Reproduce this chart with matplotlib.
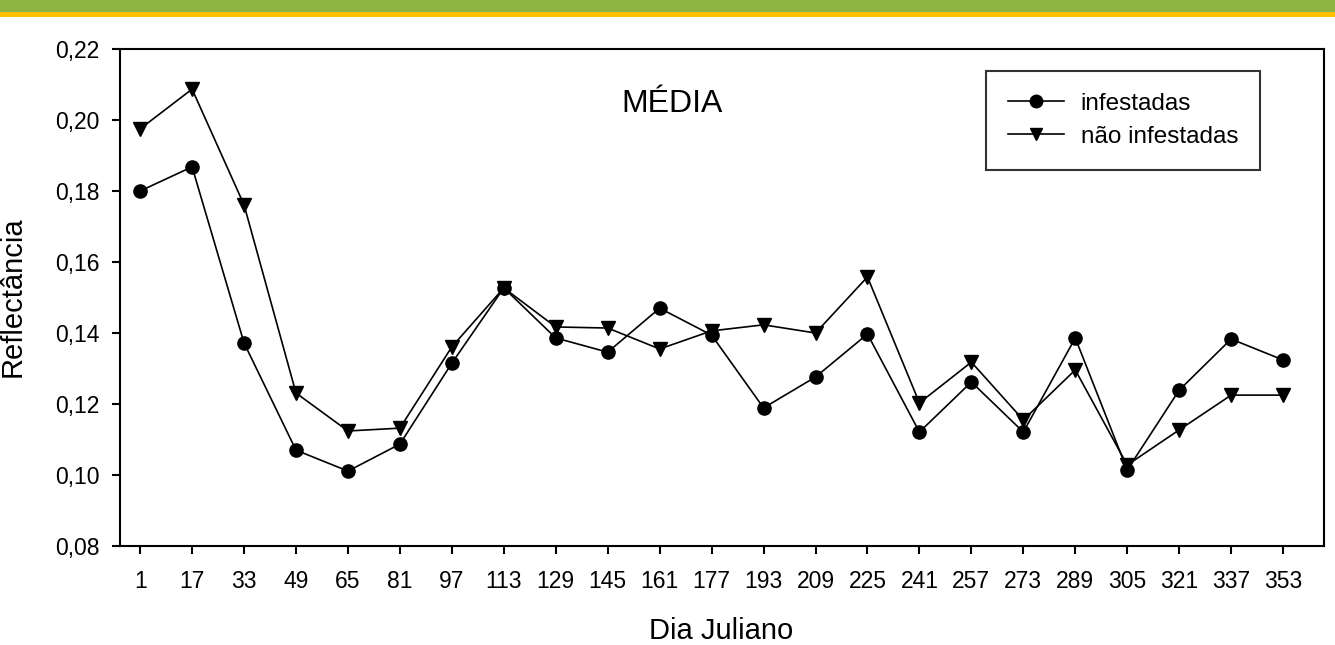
import matplotlib
matplotlib.use("Agg")
import matplotlib.pyplot as plt
from matplotlib.patches import Rectangle

plt.rcParams['font.family'] = ['Liberation Sans', 'DejaVu Sans']

# Julian day of each image
dias = [1, 17, 33, 49, 65, 81, 97, 113, 129, 145, 161, 177,
        193, 209, 225, 241, 257, 273, 289, 305, 321, 337, 353]

# Mean reflectance per date
infestadas = [0.1800, 0.1868, 0.1372, 0.1070, 0.1011, 0.1087, 0.1315, 0.1527,
              0.1386, 0.1346, 0.1470, 0.1394, 0.1189, 0.1276, 0.1397, 0.1121,
              0.1262, 0.1121, 0.1386, 0.1014, 0.1239, 0.1383, 0.1324]
nao_infestadas = [0.1975, 0.2087, 0.1761, 0.1231, 0.1124, 0.1132, 0.1361, 0.1527,
                  0.1417, 0.1414, 0.1355, 0.1406, 0.1423, 0.1400, 0.1558, 0.1203,
                  0.1318, 0.1155, 0.1296, 0.1028, 0.1127, 0.1225, 0.1225]

y_ticks = [0.08, 0.10, 0.12, 0.14, 0.16, 0.18, 0.20, 0.22]
y_tick_labels = ['0,08', '0,10', '0,12', '0,14', '0,16', '0,18', '0,20', '0,22']

W, H = 1335, 645
fig = plt.figure(figsize=(W / 100, H / 100), dpi=100)
fig.patch.set_facecolor('white')

# Decorative band at the top of the slide
fig.add_artist(Rectangle((0, 1 - 12 / H), 1, 12 / H, transform=fig.transFigure,
                         facecolor='#8EB443', edgecolor='none'))
fig.add_artist(Rectangle((0, 1 - 17 / H), 1, 5 / H, transform=fig.transFigure,
                         facecolor='#FFC000', edgecolor='none'))

ax = fig.add_axes([120 / W, 1 - 546 / H, (1324 - 120) / W, (546 - 49) / H])

ax.plot(dias, infestadas, color='black', lw=1.2, marker='o', ms=9.5,
        label='infestadas')
ax.plot(dias, nao_infestadas, color='black', lw=1.2, marker='v', ms=10.5,
        label='não infestadas')

ax.set_xlim(-5.2, 365.6)
ax.set_ylim(0.08, 0.22)
ax.set_xticks(dias)
ax.set_xticklabels([str(d) for d in dias])
ax.set_yticks(y_ticks)
ax.set_yticklabels(y_tick_labels)

for s in ax.spines.values():
    s.set_linewidth(1.5)
ax.tick_params(axis='both', direction='out', length=6, width=1.5,
               labelsize=16.5, colors='black')
ax.tick_params(axis='y', pad=9)
ax.tick_params(axis='x', pad=11)

fig.text(672 / W, 1 - 112 / H, 'MÉDIA', fontsize=23, ha='center', va='baseline')
fig.text(721 / W, 1 - 639 / H, 'Dia Juliano', fontsize=21, ha='center', va='baseline')
fig.text(13 / W, 1 - 297 / H, 'Reflectância', fontsize=21, rotation=90,
         ha='center', va='center')

leg = ax.legend(loc='upper left', bbox_to_anchor=(986 / W, 1 - 71 / H),
                bbox_transform=fig.transFigure, borderaxespad=0,
                fontsize=17.5, frameon=True, fancybox=False,
                handlelength=2.3, handletextpad=0.7, borderpad=0.9,
                labelspacing=0.45)
leg.get_frame().set_edgecolor('black')
leg.get_frame().set_linewidth(1.5)
for h in leg.legend_handles:
    h.set_markersize(9)

fig.savefig('out.png', dpi=100)
